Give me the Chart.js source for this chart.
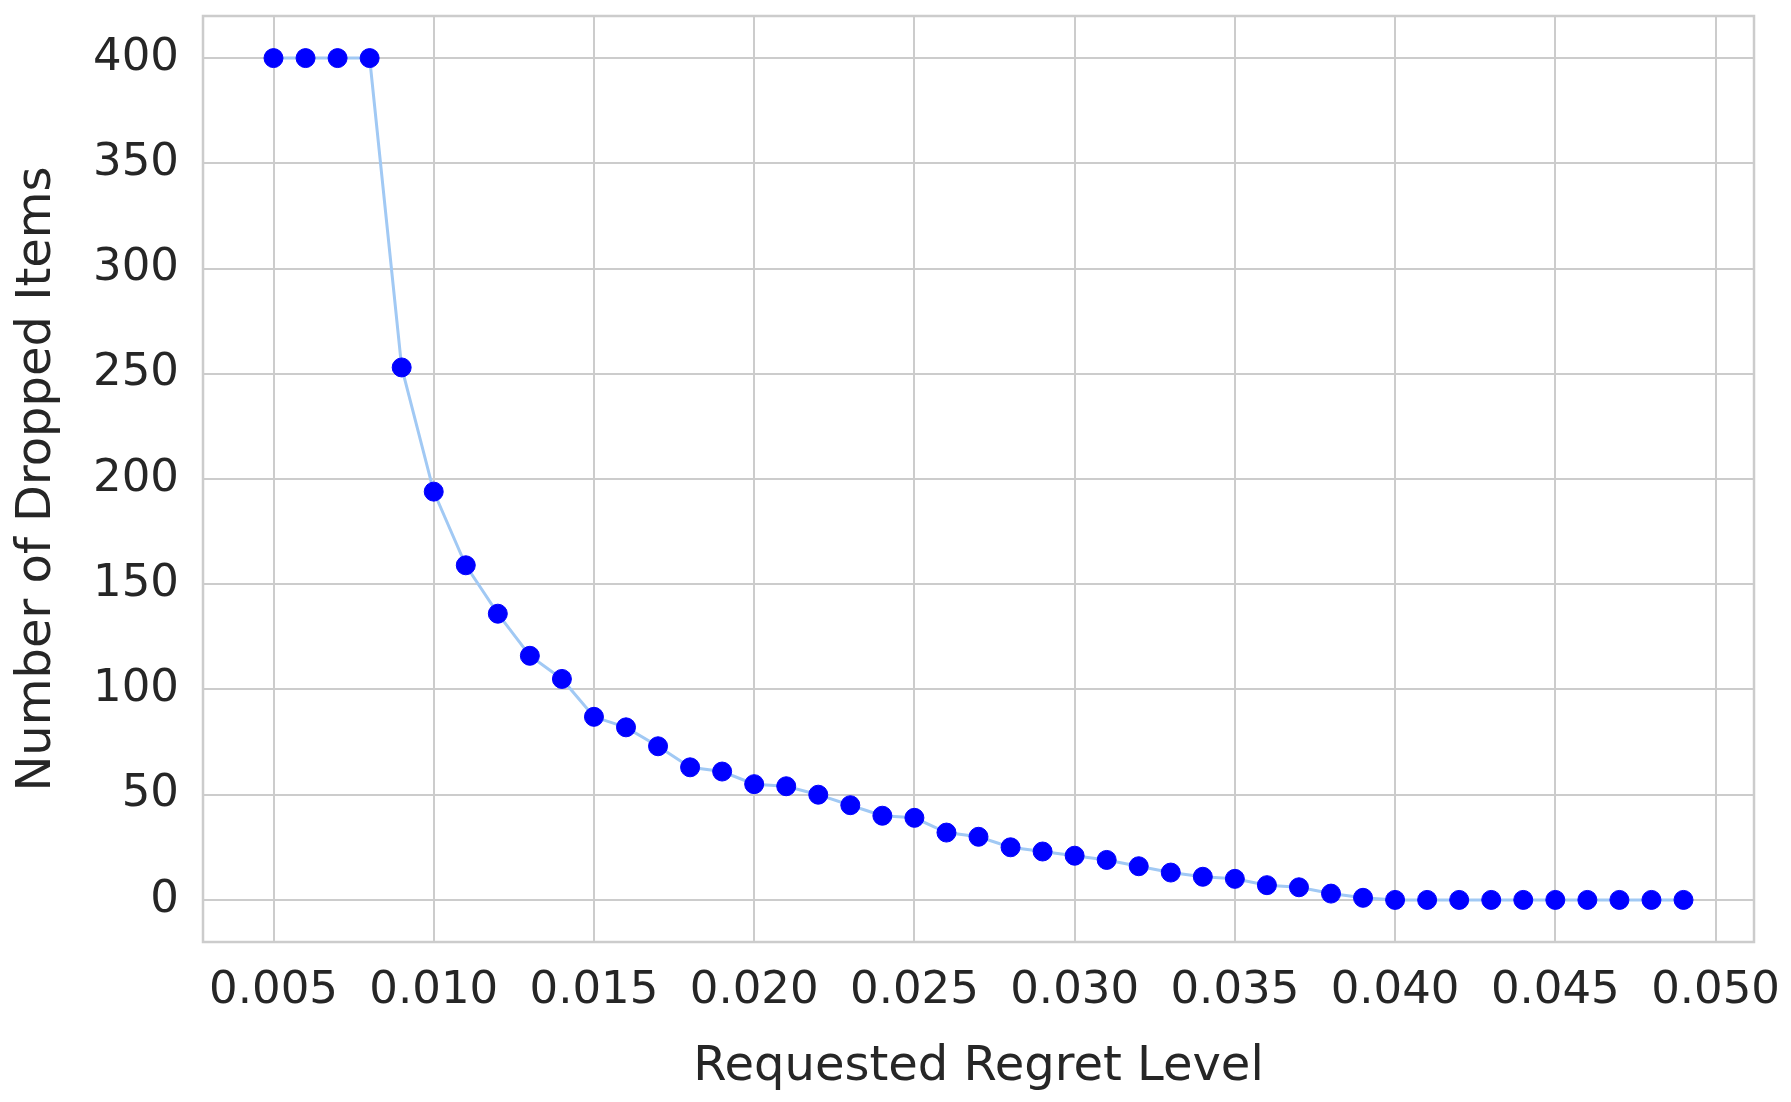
<!DOCTYPE html>
<html>
<head>
<meta charset="utf-8">
<script src="https://cdn.jsdelivr.net/npm/chart.js@4.4.1/dist/chart.umd.min.js"></script>
<style>
  html, body { margin: 0; padding: 0; background: #ffffff; }
  canvas { display: block; }
</style>
</head>
<body>
<canvas id="myChart" width="1791" height="1102"></canvas>
<script>
//data
const regretLevels = [
    0.005, 0.006, 0.007, 0.008, 0.009, 0.010, 0.011, 0.012, 0.013, 0.014,
    0.015, 0.016, 0.017, 0.018, 0.019, 0.020, 0.021, 0.022, 0.023, 0.024,
    0.025, 0.026, 0.027, 0.028, 0.029, 0.030, 0.031, 0.032, 0.033, 0.034,
    0.035, 0.036, 0.037, 0.038, 0.039, 0.040, 0.041, 0.042, 0.043, 0.044,
    0.045, 0.046, 0.047, 0.048, 0.049
];
const droppedItems = [
    400, 400, 400, 400, 253, 194, 159, 136, 116, 105,
    87, 82, 73, 63, 61, 55, 54, 50, 45, 40,
    39, 32, 30, 25, 23, 21, 19, 16, 13, 11,
    10, 7, 6, 3, 1, 0, 0, 0, 0, 0,
    0, 0, 0, 0, 0
];
const xTicks = [0.005, 0.010, 0.015, 0.020, 0.025, 0.030, 0.035, 0.040, 0.045, 0.050];
const yTicks = [0, 50, 100, 150, 200, 250, 300, 350, 400];

const gridColor = '#cccccc';
const textColor = '#262626';
const fontFamily = "'DejaVu Sans', sans-serif";

// seaborn-style box around the plot area
const frame = {
    id: 'frame',
    beforeDatasetsDraw(chart) {
        const {ctx, chartArea: a} = chart;
        ctx.save();
        ctx.strokeStyle = gridColor;
        ctx.lineWidth = 2.5;
        ctx.strokeRect(a.left, a.top, a.right - a.left, a.bottom - a.top);
        ctx.restore();
    }
};

const ctx = document.getElementById('myChart').getContext('2d');
const chart = new Chart(ctx, {
    type: 'line',
    data: {
        datasets: [{
            data: regretLevels.map((x, i) => ({x: x, y: droppedItems[i]})),
            borderColor: '#a1c9f4',
            borderWidth: 3,
            tension: 0,
            pointRadius: 9.5,
            pointBorderWidth: 1,
            pointBackgroundColor: '#0000ff',
            pointBorderColor: '#0000ff',
            fill: false
        }]
    },
    options: {
        responsive: false,
        animation: false,
        devicePixelRatio: 1,
        layout: { padding: { top: 16, right: 37, left: 0, bottom: 0 } },
        plugins: { legend: { display: false }, tooltip: { enabled: false } },
        scales: {
            x: {
                type: 'linear',
                min: 0.0028,
                max: 0.0512,
                afterBuildTicks: s => { s.ticks = xTicks.map(v => ({value: v})); },
                afterFit: s => { s.height = 160; s.paddingLeft = 0; s.paddingRight = 0; },
                ticks: {
                    color: textColor,
                    font: { family: fontFamily, size: 45 },
                    padding: 22,
                    maxRotation: 0,
                    callback: v => v.toFixed(3)
                },
                grid: { color: gridColor, lineWidth: 2, drawTicks: false },
                border: { display: false },
                title: {
                    display: true,
                    text: 'Requested Regret Level',
                    color: textColor,
                    font: { family: fontFamily, size: 48, lineHeight: 1.2 },
                    padding: { top: 0, bottom: 6 }
                }
            },
            y: {
                type: 'linear',
                min: -20,
                max: 420,
                afterBuildTicks: s => { s.ticks = yTicks.map(v => ({value: v})); },
                afterFit: s => { s.width = 203; s.paddingTop = 0; s.paddingBottom = 0; },
                ticks: {
                    color: textColor,
                    font: { family: fontFamily, size: 45 },
                    padding: 24
                },
                grid: { color: gridColor, lineWidth: 2, drawTicks: false },
                border: { display: false },
                title: {
                    display: true,
                    text: 'Number of Dropped Items',
                    color: textColor,
                    font: { family: fontFamily, size: 48, lineHeight: 1.2 },
                    padding: { top: 9, bottom: 0 }
                }
            }
        }
    },
    plugins: [frame]
});
</script>
</body>
</html>
